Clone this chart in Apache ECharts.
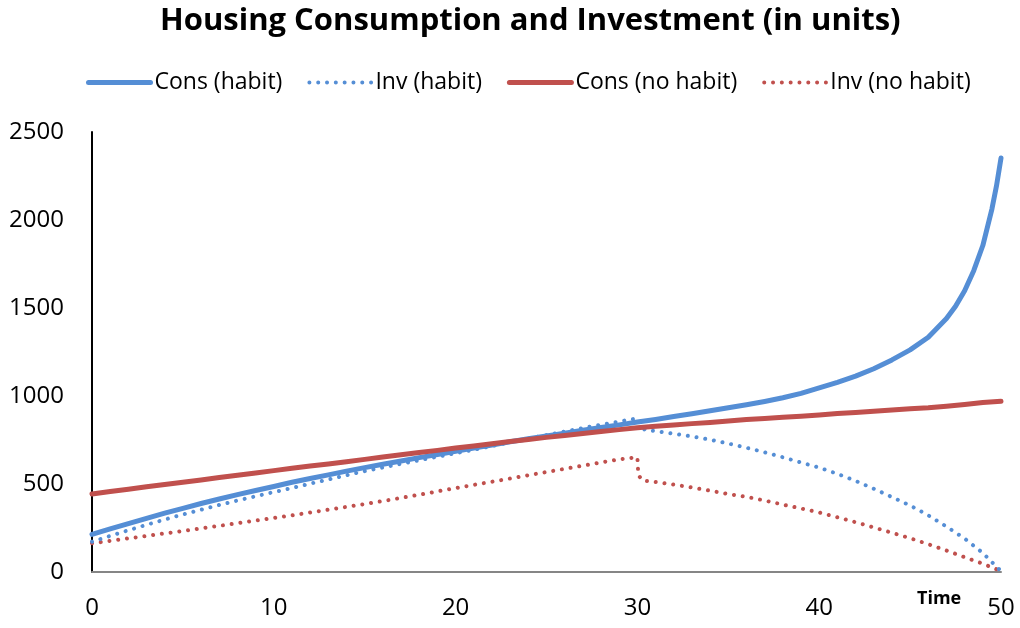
<!DOCTYPE html>
<html>
<head>
<meta charset="utf-8">
<script src="https://cdn.jsdelivr.net/npm/echarts@6/dist/echarts.min.js"></script>
<style>
  html, body { margin: 0; padding: 0; background: #ffffff; }
  #chart { width: 1020px; height: 628px; }
</style>
</head>
<body>
<div id="chart"></div>
<script>
// Time steps (years)
const years = [0,1,2,3,4,5,6,7,8,9,10,11,12,13,14,15,16,17,18,19,20,
  21,22,23,24,25,26,27,28,29,30,31,32,33,34,35,36,37,38,39,40,
  41,42,43,44,45,46,47,48,49,50];

// Housing consumption with habit formation
const consHabit = [214,245,275,305,334,362,389,415,440,463,486,
  510,531,552,573,593,612,631,650,668,686,
  704,722,740,757,773,789,805,821,836,852,
  867,883,899,916,933,950,969,990,1015,1046,
  1078,1113,1155,1205,1262,1334,1440,1598,1855,2352];
// Extra samples where consumption accelerates near the end
const consHabitTail = [[47.5, 1510], [48.5, 1712], [49.5, 2062], [49.75, 2193]];

// Housing investment with habit formation
const invHabit = [172,205,237,268,298,327,354,381,406,430,454,
  477,502,526,550,573,594,615,635,655,675,
  695,716,737,758,778,798,818,837,855,873,
  800,786,770,752,730,706,680,652,622,593,
  558,518,473,426,378,322,258,190,108,5];
// Drop in investment right after year 30
const invHabitBreak = [[30.4, 808]];

// Housing consumption without habit formation
const consNoHabit = [443,457,470,484,497,510,523,537,550,563,576,
  589,602,614,627,640,653,666,679,691,704,
  716,729,742,753,765,776,787,798,809,819,
  828,835,843,850,858,866,872,879,885,892,
  900,906,913,920,927,933,942,952,963,970];

// Housing investment without habit formation
const invNoHabit = [163,177,191,205,219,233,248,262,277,292,307,
  322,338,354,370,386,403,421,439,458,477,
  495,513,531,550,568,586,604,623,640,652,
  511,497,480,462,443,427,406,383,361,338,
  311,283,253,223,192,158,122,84,47,5];
const invNoHabitBreak = [[30.05, 550], [30.3, 519]];

const xTicks = { min: 0, max: 50, interval: 10 };
const yTicks = { min: 0, max: 2500, interval: 500 };

const BLUE = '#558ed5';
const RED = '#c0504d';
const FONT = 'Open Sans';

// Pair each value with its year, then add any extra samples in time order
function pairs(values, extra) {
  const out = years.map((t, i) => [t, values[i]]);
  (extra || []).forEach(p => out.push(p));
  return out.map((p, i) => [p, i])
    .sort((a, b) => a[0][0] - b[0][0] || a[1] - b[1])
    .map(e => e[0]);
}

const chart = echarts.init(document.getElementById('chart'), null, { renderer: 'canvas' });

const dotted = { type: [0.01, 8.8], cap: 'round', width: 4 };

chart.setOption({
  animation: false,
  backgroundColor: '#ffffff',
  textStyle: { fontFamily: FONT, color: '#000' },
  title: {
    text: 'Housing Consumption and Investment (in units)',
    left: 155,
    top: 1,
    textStyle: { fontFamily: FONT, fontSize: 31, fontWeight: 'bold', color: '#000' }
  },
  legend: {
    top: 66,
    left: 81,
    itemWidth: 62,
    itemHeight: 14,
    itemGap: 25,
    lineStyle: { width: 'inherit', type: 'inherit', cap: 'inherit' },
    itemStyle: { opacity: 0 },
    textStyle: { fontFamily: FONT, fontSize: 23, color: '#000', padding: [0, 0, 0, -1] },
    data: ['Cons (habit)', 'Inv (habit)', 'Cons (no habit)', 'Inv (no habit)']
  },
  grid: { left: 92, right: 19, top: 132, bottom: 56, containLabel: false },
  xAxis: {
    type: 'value',
    min: xTicks.min, max: xTicks.max, interval: xTicks.interval,
    name: 'Time',
    nameLocation: 'end',
    nameGap: -84,
    nameTextStyle: { fontFamily: FONT, fontSize: 18, fontWeight: 'bold', color: '#000',
      verticalAlign: 'top', padding: [18, 0, 0, 0] },
    axisLine: { show: true, onZero: false, lineStyle: { color: '#868686', width: 2 } },
    axisTick: { show: false },
    splitLine: { show: false },
    axisLabel: { fontFamily: FONT, fontSize: 24, color: '#000', margin: 24 }
  },
  yAxis: {
    type: 'value',
    min: yTicks.min, max: yTicks.max, interval: yTicks.interval,
    axisLine: { show: true, lineStyle: { color: '#000', width: 2 } },
    axisTick: { show: false },
    splitLine: { show: false },
    axisLabel: { fontFamily: FONT, fontSize: 24, color: '#000', margin: 28,
      formatter: v => String(v) }
  },
  series: [
    {
      name: 'Cons (habit)', type: 'line', symbol: 'none',
      data: pairs(consHabit, consHabitTail),
      lineStyle: { color: BLUE, width: 5, cap: 'round', join: 'round' }, itemStyle: { color: BLUE }, z: 4
    },
    {
      name: 'Inv (habit)', type: 'line', symbol: 'none',
      data: pairs(invHabit, invHabitBreak),
      lineStyle: Object.assign({ color: BLUE }, dotted), itemStyle: { color: BLUE }, z: 3
    },
    {
      name: 'Cons (no habit)', type: 'line', symbol: 'none',
      data: pairs(consNoHabit),
      lineStyle: { color: RED, width: 5, cap: 'round', join: 'round' }, itemStyle: { color: RED }, z: 5
    },
    {
      name: 'Inv (no habit)', type: 'line', symbol: 'none',
      data: pairs(invNoHabit, invNoHabitBreak),
      lineStyle: Object.assign({ color: RED }, dotted), itemStyle: { color: RED }, z: 2
    }
  ]
});
</script>
</body>
</html>
